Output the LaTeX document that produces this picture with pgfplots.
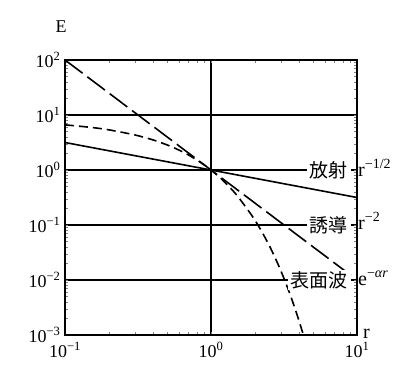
\documentclass[border=0pt]{standalone}
\usepackage{pgfplots}
\pgfplotsset{compat=1.18}
\usepackage{fontspec}
\setmainfont{Liberation Serif}
\newfontfamily\cjk{Noto Sans CJK JP}
\begin{document}
\begin{tikzpicture}
\begin{axis}[
  name=ax,
  xmode=log, ymode=log,
  scale only axis, width=292pt, height=275pt,
  xmin=0.1, xmax=10, ymin=1e-3, ymax=100,
  xtick={0.1,1,10},
  xticklabels={10\textsuperscript{−1},10\textsuperscript{0},10\textsuperscript{1}},
  ytick={1e-3,1e-2,1e-1,1,10,100},
  yticklabels={10\textsuperscript{−3},10\textsuperscript{−2},10\textsuperscript{−1},10\textsuperscript{0},10\textsuperscript{1},10\textsuperscript{2}},
  minor tick num=0,
  major tick length=0pt,
  grid=major,
  major grid style={black, line width=1.4pt},
  axis line style={black, line width=1.7pt},
  tick label style={font=\fontsize{18}{21}\selectfont},
  yticklabel style={xshift=-1pt},
  xticklabel style={yshift=-4pt},
  clip=false,
]
\addplot[black, line width=1.6pt] coordinates {(0.1,3.162) (10,0.3162)};
\addplot[black, line width=1.6pt, dash pattern=on 22pt off 6pt] coordinates {(0.1,100) (9.1,0.0121)};
\addplot[black, line width=1.6pt, dash pattern=on 9pt off 5pt, smooth] coordinates {
 (0.1,6.62) (0.15,5.96) (0.2,5.37) (0.3,4.35) (0.4,3.53) (0.5,2.86) (0.6,2.32)
 (0.7,1.88) (0.8,1.52) (0.9,1.234) (1,1) (1.2,0.657) (1.5,0.350) (2,0.1225)
 (2.5,0.0429) (3,0.0150) (3.5,0.00525) (4,0.00184) (4.3,0.00098)};
\node[fill=white, inner xsep=3pt, inner ysep=1pt, anchor=east, font=\cjk\fontsize{19}{22}\selectfont] at (axis cs:9.1,1) {放射};
\node[fill=white, inner xsep=3pt, inner ysep=1pt, anchor=east, font=\cjk\fontsize{19}{22}\selectfont] at (axis cs:9.1,0.1) {誘導};
\node[fill=white, inner xsep=3pt, inner ysep=1pt, anchor=east, font=\cjk\fontsize{19}{22}\selectfont] at (axis cs:9.1,0.01) {表面波};
\end{axis}
\path (ax.south east) ++(1pt,165pt-6pt) node[anchor=base west, inner sep=0pt, font=\fontsize{20}{24}\selectfont] {r\textsuperscript{−1/2}};
\path (ax.south east) ++(1pt,110pt-4pt) node[anchor=base west, inner sep=0pt, font=\fontsize{20}{24}\selectfont] {r\textsuperscript{−2}};
\path (ax.south east) ++(1pt,55pt-5pt) node[anchor=base west, inner sep=0pt, font=\fontsize{20}{24}\selectfont] {e\textsuperscript{−\textit{αr}}};
\path (ax.south east) ++(6pt,-3pt) node[anchor=base west, inner sep=0pt, font=\fontsize{20}{24}\selectfont] {r};
\path (ax.north west) ++(-4pt,27pt) node[anchor=base, inner sep=0pt, font=\fontsize{18}{21}\selectfont] {E};
\pgfresetboundingbox
\path[use as bounding box] ([xshift=-65pt,yshift=-43pt]ax.south west) rectangle ([xshift=60pt,yshift=60pt]ax.north east);
\end{tikzpicture}
\end{document}
